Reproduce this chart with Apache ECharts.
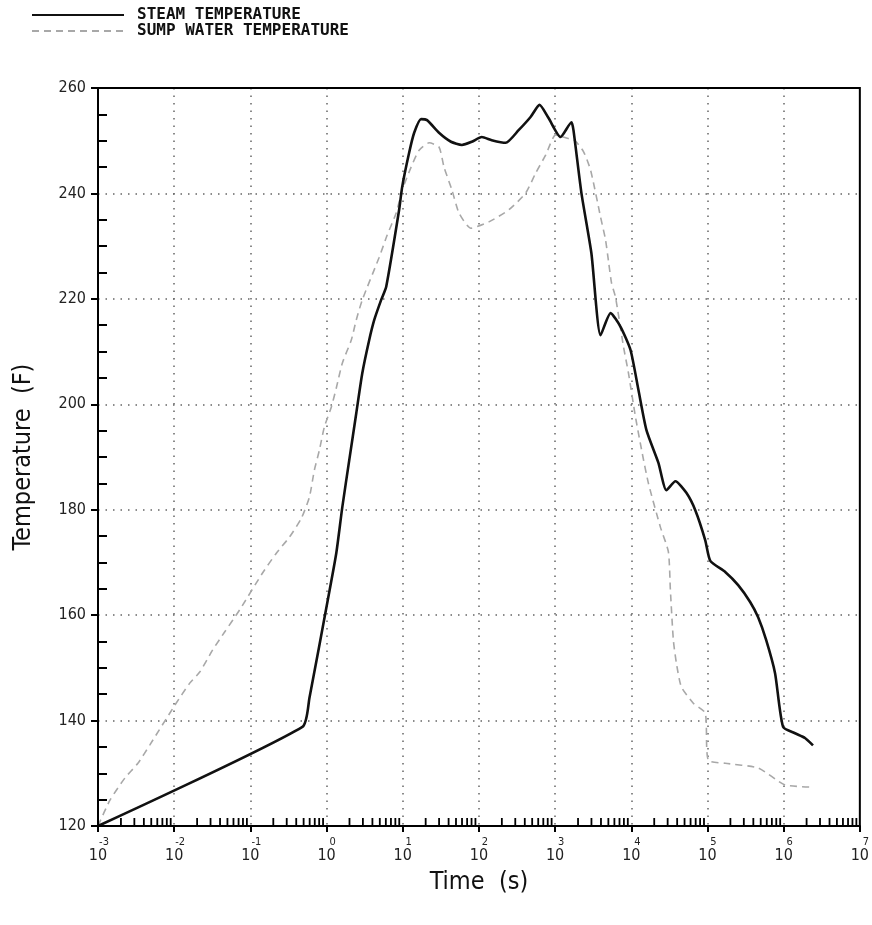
<!DOCTYPE html>
<html>
<head>
<meta charset="utf-8">
<title>Steam and sump water temperature</title>
<script src="https://cdn.jsdelivr.net/npm/echarts@6/dist/echarts.min.js"></script>
<style>
  html, body { margin: 0; padding: 0; background: #fff; }
  #chart { width: 872px; height: 925px; }
</style>
</head>
<body>
<div id="chart"></div>
<script>
// steam temperature (solid black)
const steamTime = [0.001, 0.482, 0.596, 1.057, 1.343, 1.61, 1.986, 2.455, 2.944, 3.63, 4.227, 5.21, 6.067,
  8.97, 9.82, 12.13, 14.13, 17.38, 20.84, 29.92, 42.95, 59.84, 80.7, 109.1, 147.2, 224.4, 331.9, 476.4,
  625.2, 820.4, 1178, 1641, 1742, 2218, 2992, 3954, 5346, 7228, 9772, 12420, 15810, 22700, 28910,
  37930, 52840, 69180, 93540, 108900, 171000, 252900, 363100, 462400, 588800, 770900, 982500,
  1409000, 1905000, 2427000]
const steamTemp = [120, 138.8, 144.3, 163.5, 171.8, 180.5, 189.4, 198.3, 205.9, 212.2, 216, 219.8, 222.3,
  236.9, 241.2, 247.7, 251.5, 254.1, 253.9, 251.5, 249.8, 249.2, 249.8, 250.7, 250.1, 249.6, 252, 254.5,
  256.8, 254.3, 250.7, 253.5, 252, 240, 228.7, 213.1, 217.3, 214.7, 210.3, 202.7, 195.1, 188.9, 183.7,
  185.4, 183.2, 179.9, 174.2, 170.3, 168.2, 165.7, 162.5, 159.6, 155.3, 149, 138.8,
  137.6, 136.7, 135.3]

// sump water temperature (grey dashed)
const sumpTime = [0.001, 0.001435, 0.002254, 0.003342, 0.004797, 0.01019, 0.016, 0.02163, 0.03199, 0.04592,
  0.07228, 0.1445, 0.2203, 0.3258, 0.4677, 0.5957, 0.6918, 0.8054, 0.9354, 1.156, 1.343, 1.61, 2.113,
  2.455, 2.944, 4.909, 6.252, 8.204, 9.817, 12.88, 16.41, 22.18, 29.92, 34.83, 44.36, 54.7, 78.52,
  135.2, 247.2, 412.1, 557.2, 753.4, 1019, 1413, 1820, 2366, 2924, 3954, 4592, 5035, 5508, 6209, 7907,
  9183, 11350, 13800, 16790, 24100, 30690, 32580, 35650, 39080, 45390, 65160, 93540, 102300, 171000,
  462400, 1042000, 2286000]
const sumpTemp = [120, 124.9, 129.1, 131.9, 135.4, 142.9, 147.1, 149.2, 153.4, 156.8,
  161, 168, 171.8, 174.8, 178.4, 182.4, 187.5, 191.3, 195.7, 199.5, 203.1, 207.8, 212.2,
  216, 219.8, 227.9, 232.1, 236.3, 240.6, 245, 248.2, 249.6, 248.8, 245, 240.6, 236.3, 233.4,
  234.6, 236.9, 240.1, 243.9, 247.3, 251.1, 250.5, 250, 247.9, 244.4, 235.5, 231.2, 227, 223, 220.3, 210.9,
  205.9, 197.6, 191, 185, 176.7, 172, 164.8, 155.3, 150.9, 146.4, 143.3, 141.4, 132.5, 131.9,
  131, 127.8, 127.4]

// axes
const decades = [-3, -2, -1, 0, 1, 2, 3, 4, 5, 6, 7]
const minorMultiples = [2, 3, 4, 5, 6, 7, 8, 9]
const yTicks = [120, 140, 160, 180, 200, 220, 240, 260]

const chart = echarts.init(document.getElementById('chart'))

const pairs = (xs, ys) => xs.map((x, i) => [x, ys[i]])

// minor ticks of the log axis, at 2..9 of every decade
const minorTickData = []
decades.slice(0, -1).forEach((d) => {
  minorMultiples.forEach((m) => minorTickData.push([m * Math.pow(10, d), yTicks[0]]))
})

const labelFont = '"DejaVu Sans Condensed", "Liberation Sans Narrow", sans-serif'

const option = {
  animation: false,
  backgroundColor: '#fff',
  legend: {
    orient: 'vertical',
    left: 26,
    top: 2,
    itemGap: 0,
    itemWidth: 92,
    itemHeight: 14,
    itemStyle: { opacity: 0 },
    data: ['STEAM TEMPERATURE', 'SUMP WATER TEMPERATURE'],
    textStyle: {
      fontFamily: '"DejaVu Sans Mono", monospace',
      fontWeight: 'bold',
      fontSize: 16,
      color: '#111',
      padding: [0, 0, 0, 8]
    }
  },
  grid: {
    left: 98,
    right: 10,
    top: 88,
    bottom: 99,
    show: true,
    borderColor: '#000',
    borderWidth: 2,
    z: 10
  },
  xAxis: {
    type: 'log',
    logBase: 10,
    min: 1e-3,
    max: 1e7,
    interval: 1,
    splitNumber: 10,
    name: 'Time  (s)',
    nameLocation: 'middle',
    nameGap: 44,
    nameTextStyle: { fontFamily: labelFont, fontSize: 25, color: '#111' },
    axisLine: { lineStyle: { color: '#000', width: 2 } },
    axisTick: { length: 6, lineStyle: { color: '#000', width: 2 } },
    axisLabel: {
      margin: 10,
      formatter: (v) => '{e|' + Math.round(Math.log10(v)) + '}\n{b|10}',
      rich: {
        e: { fontFamily: labelFont, fontSize: 11, color: '#222', padding: [0, 0, 0, 12], lineHeight: 12 },
        b: { fontFamily: labelFont, fontSize: 16, color: '#222', lineHeight: 16 }
      }
    },
    splitLine: {
      show: true,
      showMinLine: false,
      showMaxLine: false,
      lineStyle: { color: '#666', type: [1.5, 6], width: 1.5 }
    }
  },
  yAxis: {
    type: 'value',
    min: 120,
    max: 260,
    interval: 20,
    name: 'Temperature  (F)',
    nameLocation: 'middle',
    nameGap: 62,
    nameTextStyle: { fontFamily: labelFont, fontSize: 25, color: '#111' },
    axisLine: { show: true, lineStyle: { color: '#000', width: 2 } },
    axisTick: { show: true, length: 7, lineStyle: { color: '#000', width: 2 } },
    minorTick: { show: true, splitNumber: 4, length: -9, lineStyle: { color: '#000', width: 2 } },
    axisLabel: { margin: 12, fontFamily: labelFont, fontSize: 16, color: '#222' },
    splitLine: {
      show: true,
      showMinLine: false,
      showMaxLine: false,
      lineStyle: { color: '#666', type: [1.5, 6], width: 1.5 }
    }
  },
  series: [
    {
      name: 'STEAM TEMPERATURE',
      type: 'line',
      data: pairs(steamTime, steamTemp),
      showSymbol: false,
      symbol: 'none',
      smooth: 0.2,
      lineStyle: { color: '#111', width: 2.6 },
      itemStyle: { color: '#111' },
      z: 5
    },
    {
      name: 'SUMP WATER TEMPERATURE',
      type: 'line',
      data: pairs(sumpTime, sumpTemp),
      showSymbol: false,
      symbol: 'none',
      smooth: 0.2,
      lineStyle: { color: '#a8a8a8', width: 1.6, type: [7, 5] },
      itemStyle: { color: '#a8a8a8' },
      z: 4
    },
    {
      type: 'custom',
      silent: true,
      clip: false,
      data: minorTickData,
      renderItem: (params, api) => {
        const p = api.coord([api.value(0), api.value(1)])
        return {
          type: 'line',
          shape: { x1: p[0], y1: p[1], x2: p[0], y2: p[1] - 8 },
          style: { stroke: '#000', lineWidth: 1.8 }
        }
      },
      z: 6
    }
  ]
}

chart.setOption(option)
</script>
</body>
</html>
